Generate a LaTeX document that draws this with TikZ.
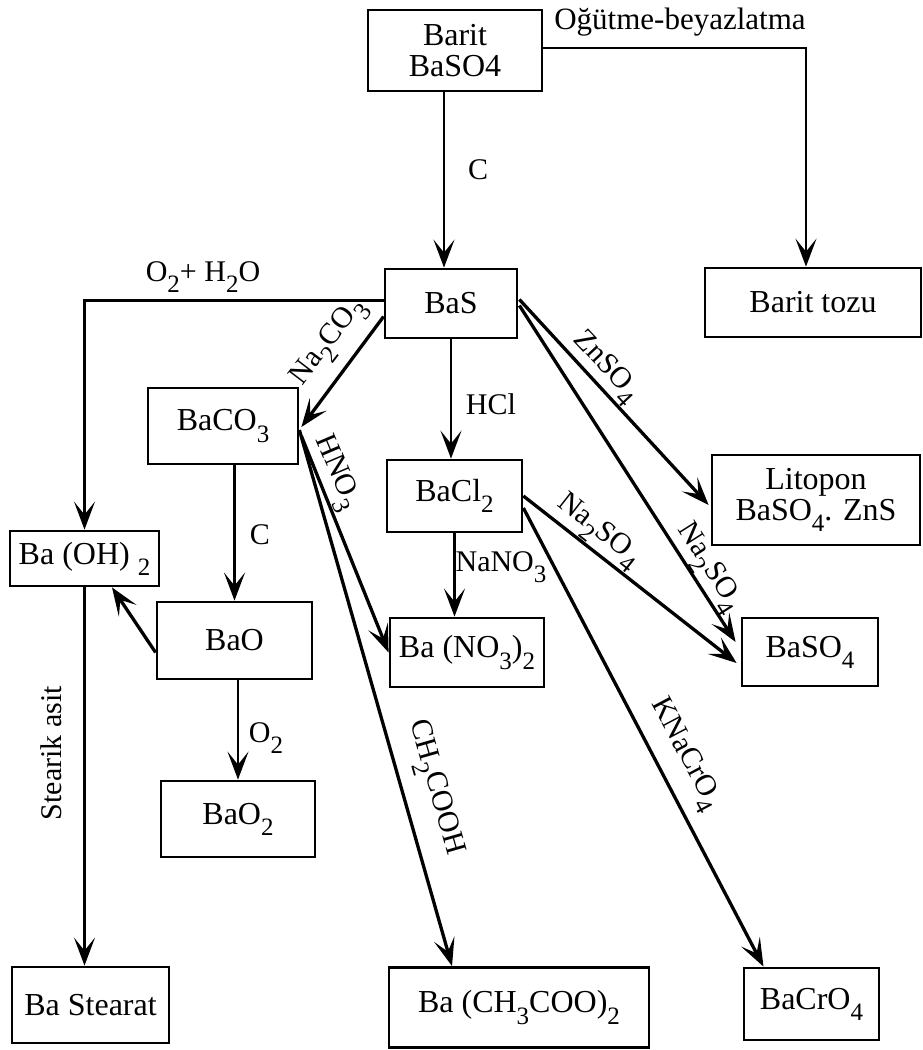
\documentclass[tikz,border=0pt]{standalone}
\usepackage{fontspec}
\setmainfont{Liberation Serif}
\usetikzlibrary{arrows.meta,calc}
\newcommand\sbs[1]{\raisebox{-0.35em}{\fontsize{25}{25}\selectfont #1}}
\begin{document}
\begin{tikzpicture}[x=1pt,y=-1pt,
  box/.style={draw, line width=2.8pt, inner sep=0pt, align=center, font=\fontsize{32}{31}\selectfont},
  lab/.style={inner sep=0pt, font=\fontsize{30}{30}\selectfont},
  arr/.style={line width=3.3pt, -{Stealth[length=28pt,width=21pt,inset=13pt]}},
  tarr/.style={line width=2.3pt, -{Stealth[length=28pt,width=21pt,inset=13pt]}}]
\fill[white] (0,0) rectangle (922,1050);
\useasboundingbox (0,0) rectangle (922,1050);

% boxes
\node[box, minimum width=174pt, minimum height=81pt] (barit) at (455,50.5) {Barit\\BaSO4};
\node[box, minimum width=216pt, minimum height=69pt] (tozu) at (813,302.5) {Barit tozu};
\node[box, minimum width=132pt, minimum height=69pt] (bas) at (451,303.5) {BaS};
\node[box, minimum width=150pt, minimum height=76pt] (baco3) at (223,426) {BaCO\sbs{3}};
\node[box, minimum width=135pt, minimum height=72pt] (bacl2) at (454.5,496) {BaCl\sbs{2}};
\node[box, minimum width=208pt, minimum height=90pt] (litopon) at (816,500) {Litopon\\BaSO\sbs{4}. ZnS};
\node[box, minimum width=149pt, minimum height=55pt] (baoh2) at (84.5,558.5) {Ba (OH) \sbs{2}};
\node[box, minimum width=155pt, minimum height=77pt] (bao) at (234.5,640.5) {BaO};
\node[box, minimum width=154pt, minimum height=69pt] (bano3) at (467,652.5) {Ba (NO\sbs{3})\sbs{2}};
\node[box, minimum width=136pt, minimum height=68pt] (baso4) at (810,652) {BaSO\sbs{4}};
\node[box, minimum width=154pt, minimum height=76pt] (bao2) at (238,819) {BaO\sbs{2}};
\node[box, minimum width=157pt, minimum height=76pt] (stearat) at (90.5,1005) {Ba Stearat};
\node[box, minimum width=260pt, minimum height=80pt] (acetate) at (519,1007.5) {Ba (CH\sbs{3}COO)\sbs{2}};
\node[box, minimum width=135pt, minimum height=72pt] (bacro4) at (811.5,1004) {BaCrO\sbs{4}};

% connectors
\coordinate (b1) at ($(barit.south)+(-11,0)$);
\draw[tarr] (b1) -- (b1 |- bas.north);
\node[lab] (lc1) at (478,170) {C};

\coordinate (t1) at ($(tozu.north)+(-7,0)$);
\draw[tarr] ($(barit.east)+(0,-2.5)$) -| (t1);
\node[lab, font=\fontsize{31}{31}\selectfont] (lom) at (680,22) {Oğütme-beyazlatma};

\draw[tarr] ($(bas.west)+(0,-3)$) -| (baoh2.north);
\node[lab] (loh) at (203,277) {O\sbs{2}+ H\sbs{2}O};

\draw[arr] ($(bas.west)+(0,13)$) -- ($(baco3.east)+(2,1)$);
\node[lab, rotate=52.6] (lna2co3) at (330,343) {Na\sbs{2}CO\sbs{3}};

\draw[tarr] (bas.south) -- (bas.south |- bacl2.north);
\node[lab] (lhcl) at (491,404) {HCl};

\draw[arr] ($(bas.east)+(1,-4)$) -- ($(litopon.west)+(-2,5)$);
\node[lab, rotate=-47] (lzn) at (605,368) {ZnSO\sbs{4}};

\draw[arr] ($(bas.east)+(1,2)$) -- ($(baso4.west)+(-5,-10)$);
\node[lab, rotate=-57.6] (lna1) at (708,568) {Na\sbs{2}SO\sbs{4}};

\draw[arr] (bacl2.east) -- ($(baso4.west)+(-4,11)$);
\node[lab, rotate=-38] (lna2) at (598,532) {Na\sbs{2}SO\sbs{4}};

\draw[arr] ($(bacl2.east)+(0,12)$) -- ($(bacro4.north)+(-48,0)$);
\node[lab, rotate=-62] (lkna) at (684,755) {KNaCrO\sbs{4}};

\draw[tarr] (bacl2.south) -- (bacl2.south |- bano3.north);
\node[lab] (lnano3) at (501,567) {NaNO\sbs{3}};

\draw[tarr] (baco3.south -| bao.north) -- (bao.north);
\node[lab] (lc2) at (260,535) {C};

\draw[arr] ($(baco3.east)+(2,10)$) -- (bano3.west);
\node[lab, rotate=-67] (lhno3) at (335,473) {HNO\sbs{3}};

\draw[arr] ($(baco3.east)+(0,4)$) -- ($(acetate.north)+(-67,0)$);
\node[lab, rotate=-74] (lac) at (434,788) {CH\sbs{2}COOH};

\draw[arr] ($(bao.west)+(0,12)$) -- ($(baoh2.south)+(27.5,0)$);

\draw[tarr] (bao.south -| bao2.north) -- (bao2.north);
\node[lab] (lo2) at (266,738) {O\sbs{2}};

\draw[tarr] (baoh2.south) -- (baoh2.south |- stearat.north);
\node[lab, rotate=90] (lst) at (51,753) {Stearik asit};
\end{tikzpicture}
\end{document}
